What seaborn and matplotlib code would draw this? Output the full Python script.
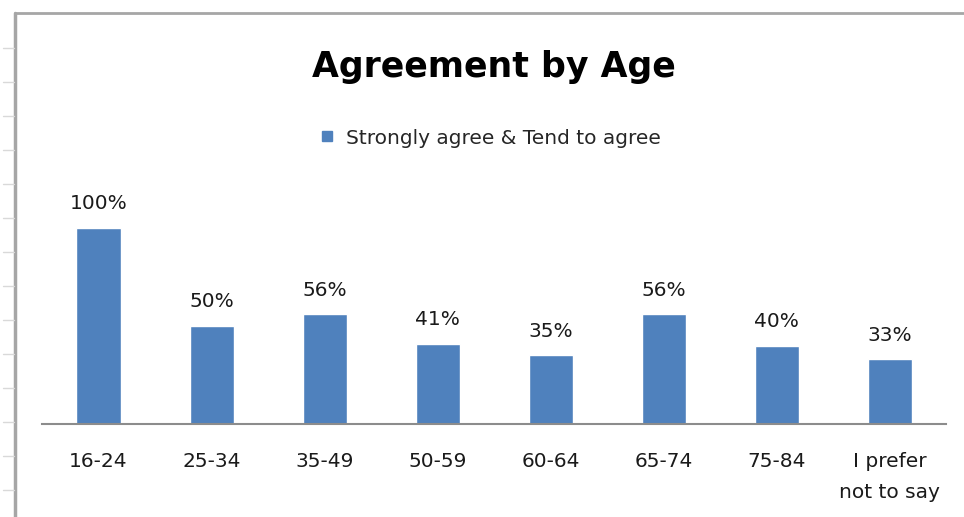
import numpy as np
import pandas as pd
import seaborn as sns
import matplotlib.pyplot as plt
from matplotlib.lines import Line2D

# data
age_groups = ["16-24", "25-34", "35-49", "50-59", "60-64", "65-74", "75-84", "I prefer\nnot to say"]
agree_pct = [100, 50, 56, 41, 35, 56, 40, 33]
series_name = "Strongly agree & Tend to agree"

df = pd.DataFrame({"age": age_groups, "pct": agree_pct})

sns.set_style("white")
plt.rcParams['font.family'] = ['DejaVu Sans']

fig = plt.figure(figsize=(9.64, 5.17), dpi=100)
ax = fig.add_axes([0.0436, 0.18, 0.9378, 0.4545])

bar_col = "#4F81BD"
sns.barplot(data=df, x="age", y="pct", color=bar_col, width=0.39, ax=ax,
            saturation=1, label=series_name)

ax.set_xlim(-0.5, len(age_groups) - 0.5)
ax.set_ylim(0, 120)
ax.set_yticks([])
ax.set_xlabel("")
ax.set_ylabel("")
for s in ["top", "right", "left"]:
    ax.spines[s].set_visible(False)
ax.spines["bottom"].set_color("#8c8c8c")
ax.spines["bottom"].set_linewidth(1.5)
ax.tick_params(axis="x", length=0, pad=20, labelsize=14.5, labelcolor="#1a1a1a")
for lbl in ax.get_xticklabels():
    lbl.set_linespacing(1.8)

# value labels
for i, v in enumerate(agree_pct):
    ax.text(i, v + 7.5, f"{v}%", ha="center", va="bottom", fontsize=14.5, color="#1a1a1a")

# title + legend
fig.text(0.512, 0.87, "Agreement by Age", ha="center", va="center",
         fontsize=25, fontweight="bold", color="black")
handle = Line2D([], [], marker="s", linestyle="none", markersize=7.5,
                markerfacecolor=bar_col, markeredgecolor=bar_col)
fig.legend([handle], [series_name], loc="center", bbox_to_anchor=(0.506, 0.733),
           frameon=False, fontsize=14.5, handletextpad=0.3, handlelength=1.3)
if ax.get_legend() is not None:
    ax.get_legend().remove()

# spreadsheet frame on left/top
fig.add_artist(Line2D([15/964, 15/964], [0, 1 - 13/517], color="#a6a6a6", lw=2.5,
                      transform=fig.transFigure))
fig.add_artist(Line2D([15/964, 1], [1 - 13/517, 1 - 13/517], color="#a6a6a6", lw=2,
                      transform=fig.transFigure))
for yy in np.arange(48, 517, 34):
    fig.add_artist(Line2D([3/964, 14/964], [1 - yy/517, 1 - yy/517], color="#d9d9d9",
                          lw=1, transform=fig.transFigure))

fig.savefig("out.png", dpi=100)
